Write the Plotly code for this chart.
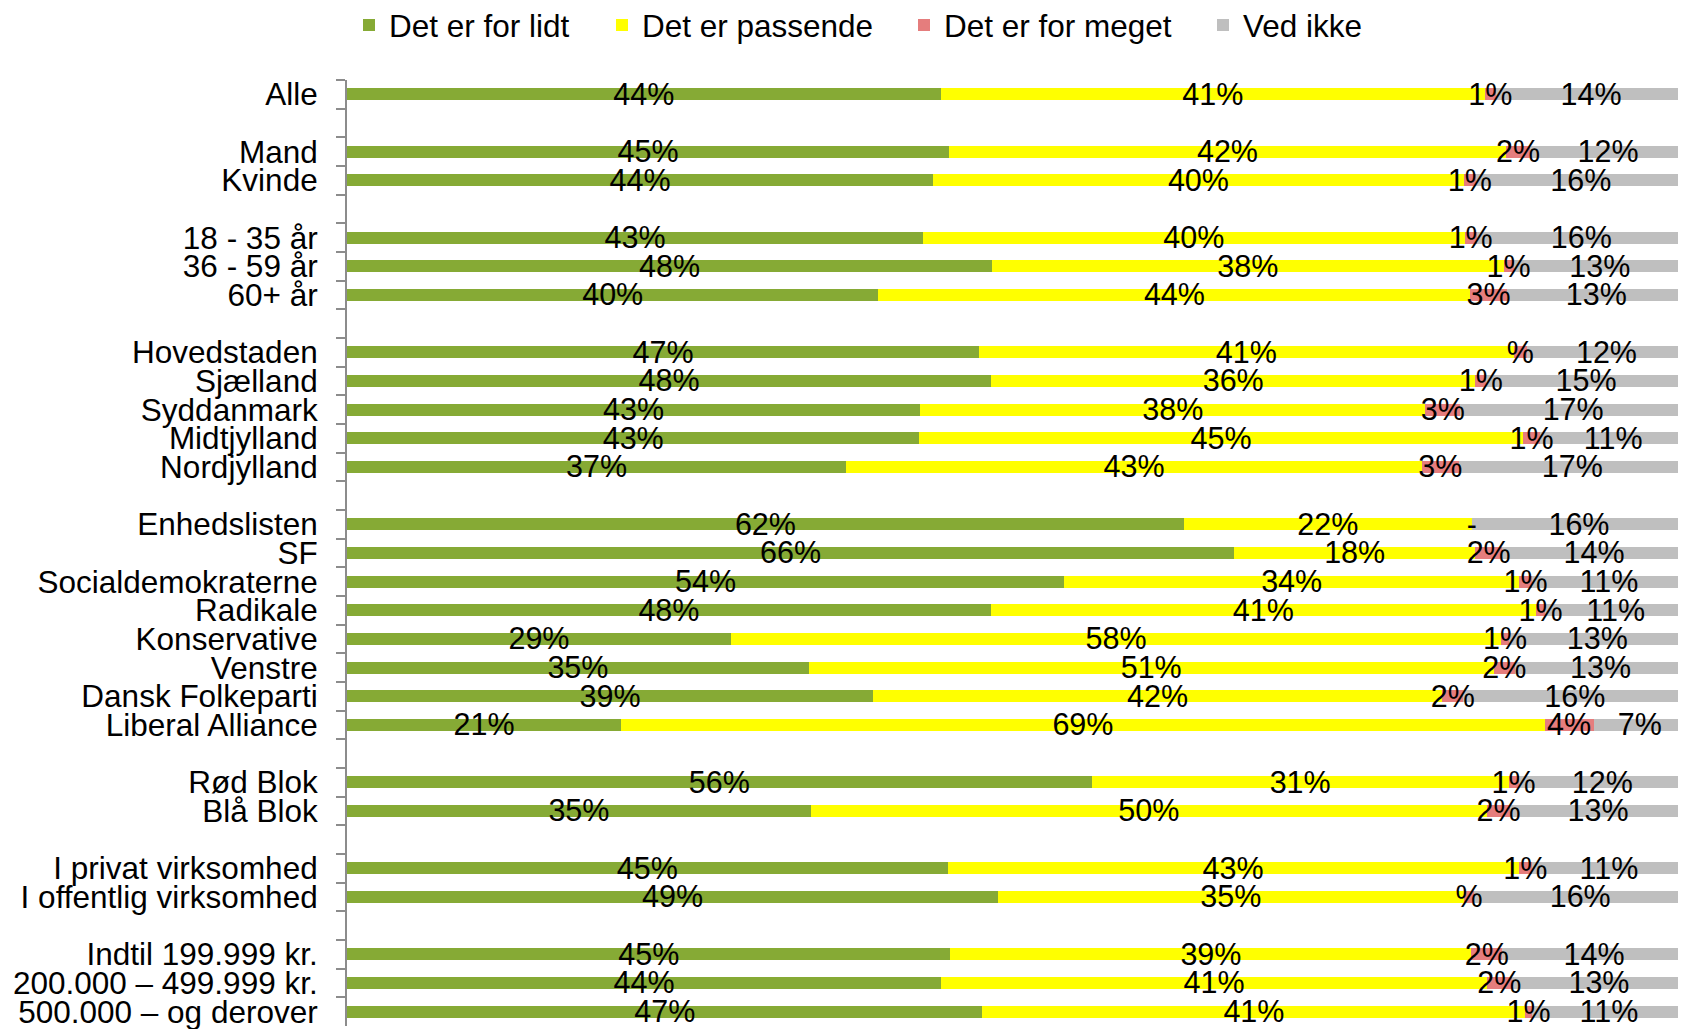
import numpy as np
import plotly.graph_objects as go

# ---------------- data ----------------
groups = [
    ["Alle"],
    ["Mand", "Kvinde"],
    ["18 - 35 år", "36 - 59 år", "60+ år"],
    ["Hovedstaden", "Sjælland", "Syddanmark", "Midtjylland", "Nordjylland"],
    ["Enhedslisten", "SF", "Socialdemokraterne", "Radikale", "Konservative",
     "Venstre", "Dansk Folkeparti", "Liberal Alliance"],
    ["Rød Blok", "Blå Blok"],
    ["I privat virksomhed", "I offentlig virksomhed"],
    ["Indtil 199.999 kr.", "200.000 – 499.999 kr.", "500.000 – og derover"],
]

series_names = ["Det er for lidt", "Det er passende", "Det er for meget", "Ved ikke"]

lidt = [44.34, 44.96, 43.77, 43.02, 48.17, 39.69, 47.20, 48.10, 42.80, 42.75, 37.28,
        62.50, 66.24, 53.55, 48.08, 28.67, 34.49, 39.29, 20.48, 55.62, 34.64,
        44.85, 48.62, 45.07, 44.38, 47.46]
passende = [40.63, 41.59, 39.63, 40.45, 38.21, 44.21, 39.93, 36.17, 37.74, 45.05, 43.00,
            21.51, 18.03, 34.00, 40.71, 57.54, 51.14, 42.49, 68.96, 31.13, 50.49,
            42.65, 34.78, 38.90, 40.75, 40.54]
meget = [0.84, 1.82, 0.90, 0.90, 0.75, 2.70, 0.99, 0.80, 2.61, 1.32, 2.74,
         0.00, 1.99, 0.94, 0.70, 0.55, 1.60, 1.60, 3.66, 0.75, 1.74,
         1.00, 0.80, 2.30, 1.87, 0.50]
ved_ikke = [14.19, 11.63, 15.70, 15.63, 12.87, 13.40, 11.88, 14.93, 16.85, 10.88, 16.98,
            15.99, 13.74, 11.51, 10.51, 13.24, 12.77, 16.62, 6.90, 12.50, 13.13,
            11.50, 15.80, 13.73, 13.00, 11.50]

lidt_lbl = ["44%", "45%", "44%", "43%", "48%", "40%", "47%", "48%", "43%", "43%", "37%",
            "62%", "66%", "54%", "48%", "29%", "35%", "39%", "21%", "56%", "35%",
            "45%", "49%", "45%", "44%", "47%"]
passende_lbl = ["41%", "42%", "40%", "40%", "38%", "44%", "41%", "36%", "38%", "45%", "43%",
                "22%", "18%", "34%", "41%", "58%", "51%", "42%", "69%", "31%", "50%",
                "43%", "35%", "39%", "41%", "41%"]
meget_lbl = ["1%", "2%", "1%", "1%", "1%", "3%", "%", "1%", "3%", "1%", "3%",
             "-", "2%", "1%", "1%", "1%", "2%", "2%", "4%", "1%", "2%",
             "1%", "%", "2%", "2%", "1%"]
ved_lbl = ["14%", "12%", "16%", "16%", "13%", "13%", "12%", "15%", "17%", "11%", "17%",
           "16%", "14%", "11%", "11%", "13%", "13%", "16%", "7%", "12%", "13%",
           "11%", "16%", "14%", "13%", "11%"]

colors = ["#86AA35", "#FFFF00", "#E57D7D", "#BFBFBF"]

# ---------------- build category list with blank separator rows ----------------
cats_all = []
real_idx = []
sep = 0
for gi, g in enumerate(groups):
    if gi > 0:
        sep += 1
        cats_all.append(" " * sep)
    for c in g:
        real_idx.append(len(cats_all))
        cats_all.append(c)
real_cats = [cats_all[i] for i in real_idx]

FONT = "Liberation Sans, Arial, sans-serif"

fig = go.Figure()
vals = [lidt, passende, meget, ved_ikke]
lbls = [lidt_lbl, passende_lbl, meget_lbl, ved_lbl]
legend_ids = ["legend", "legend2", "legend3", "legend4"]

cum = np.zeros(len(real_cats))
for k in range(4):
    v = np.array(vals[k], dtype=float)
    fig.add_trace(go.Bar(
        orientation="h", x=v, y=real_cats, name=series_names[k],
        marker=dict(color=colors[k], line=dict(width=0)),
        legend=legend_ids[k], hoverinfo="skip",
    ))
    mid = cum + v / 2.0
    fig.add_trace(go.Scatter(
        x=mid, y=real_cats, mode="text", text=lbls[k],
        textposition="middle center",
        textfont=dict(family=FONT, size=30.5, color="black"),
        showlegend=False, hoverinfo="skip", cliponaxis=False,
        yaxis="y2",
    ))
    cum = cum + v

# page has an 8px body margin; figure is sized/offset to compensate
OFF = 8
W, H = 1686 - OFF, 1029 - OFF
ml, mr, mt, mb = 347 - OFF, 0, 80 - OFF, 3

legend_px = [341, 594, 896, 1195]
layout_legends = {}
for lid, lx in zip(legend_ids, legend_px):
    layout_legends[lid] = dict(
        orientation="h", xref="container", yref="container",
        x=lx / W, y=1 - (25 - OFF) / H, xanchor="left", yanchor="middle",
        font=dict(family=FONT, size=31.5, color="black"),
        bgcolor="rgba(0,0,0,0)", borderwidth=0,
    )

n = len(cats_all)
label_shift = 0.1  # rows; nudges data labels slightly below bar centre

fig.update_layout(
    width=W, height=H,
    margin=dict(l=ml, r=mr, t=mt, b=mb, pad=0, autoexpand=False),
    barmode="stack", bargap=0.592,
    plot_bgcolor="white", paper_bgcolor="white",
    font=dict(family=FONT, color="black"),
    xaxis=dict(range=[0, 100], visible=False, showgrid=False, zeroline=False),
    yaxis=dict(
        type="category", categoryorder="array", categoryarray=cats_all,
        range=[n - 0.5, -0.5],
        tickmode="linear", tick0=0, dtick=1,
        tickson="boundaries", ticks="outside", ticklen=9, tickwidth=2,
        tickcolor="#8C8C8C", showline=True, linecolor="#8C8C8C", linewidth=2,
        showgrid=False, zeroline=False, automargin=False,
        tickfont=dict(family=FONT, size=31.5, color="black"),
        ticklabelstandoff=21,
    ),
    yaxis2=dict(
        type="category", categoryorder="array", categoryarray=cats_all,
        range=[n - 0.5 - label_shift, -0.5 - label_shift],
        overlaying="y", visible=False, showgrid=False, zeroline=False,
        automargin=False,
    ),
    **layout_legends,
)

fig.write_html("out.html")
